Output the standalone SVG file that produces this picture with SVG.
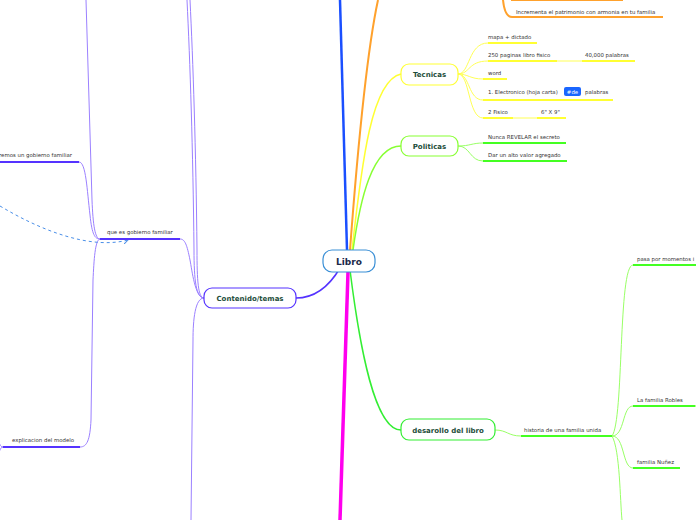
<svg xmlns="http://www.w3.org/2000/svg" width="696" height="520" viewBox="0 0 696 520">
<defs>
<style>
.t{font-family:"DejaVu Sans","Liberation Sans",sans-serif;font-size:5.4px;fill:#333}
.nt{font-family:"DejaVu Sans","Liberation Sans",sans-serif;font-weight:bold;font-size:7px;fill:#1d4d3a;text-anchor:middle}
.c{fill:none}
.pu{stroke:#9b80ff;stroke-width:1}
.puu{stroke:#5533ff;stroke-width:2}
.ye{stroke:#ffff55;stroke-width:1}
.yeu{stroke:#ffff33;stroke-width:2}
.gr{stroke:#99ff66;stroke-width:1}
.gru{stroke:#44ff22;stroke-width:2}
.or{stroke:#ffa12c;stroke-width:2}
</style>
<marker id="arr" markerWidth="6" markerHeight="6" refX="5" refY="3" orient="auto" markerUnits="userSpaceOnUse">
<path d="M0,0 L5,3 L0,6" fill="none" stroke="#4a8fe8" stroke-width="1"/>
</marker>
</defs>
<rect width="696" height="520" fill="#fff"/>
<g id="connectors">
<path class="c" d="M347,250 L340,0" stroke="#1a4fff" stroke-width="2.5"/>
<path class="c" d="M350,250 C356,170 365,60 378,0" stroke="#ffa12c" stroke-width="2"/>
<path class="c" d="M352,250 C362,160 372,80 401,74" stroke="#ffff33" stroke-width="1.5"/>
<path class="c" d="M353,250 C360,200 372,146 401,146" stroke="#88ff33" stroke-width="1.5"/>
<path class="c" d="M350,270 C360,350 375,430 401,430" stroke="#33ee33" stroke-width="1.5"/>
<path class="c" d="M348,272 L340,520" stroke="#ff00ee" stroke-width="3.5"/>
<path class="c" d="M340,268 C330,285 315,298 296,298" stroke="#5533ff" stroke-width="1.5"/>
<path class="c or" d="M503,0 C504,10 506,17 512,17"/>
<path class="c ye" d="M458,74 C470,74 468,43 488,43"/>
<path class="c ye" d="M458,74 C470,74 468,61 488,61"/>
<path class="c ye" d="M458,74 C468,74 470,79 483,79"/>
<path class="c ye" d="M458,74 C470,74 468,100 483,100"/>
<path class="c ye" d="M458,74 C470,74 468,118 483,118"/>
<path class="c ye" d="M557,61 L582,61"/>
<path class="c ye" d="M513,118 L537,118"/>
<path class="c gr" d="M458,146 C470,146 472,143 483,143"/>
<path class="c gr" d="M458,146 C470,146 470,161 483,161"/>
<path class="c gr" d="M495,430 C507,430 508,436 521,436"/>
<path class="c gr" d="M612,436 C624,420 618,265 633,265"/>
<path class="c gr" d="M612,436 C625,436 622,406 633,406"/>
<path class="c gr" d="M612,436 C625,436 622,468 633,468"/>
<path class="c gr" d="M612,436 C620,450 620,500 622,520"/>
<path class="c gr" d="M695,406 C698,406 699,403 701,400 M695,406 C698,406 699,409 701,412"/>
<path class="c pu" d="M204,298 C196,298 194,280 194,250 C193,150 190,60 187,0"/>
<path class="c pu" d="M204,298 C198,298 197,280 197,250 C196,150 193,60 190,0"/>
<path class="c pu" d="M204,298 C195,298 192,270 190,260 C187,245 185,239 180,239"/>
<path class="c pu" d="M204,298 C195,298 193,320 193,340 L191,520"/>
<path class="c pu" d="M100,239 C95,239 93,225 92,200 L86,0"/>
<path class="c pu" d="M79,162 C86,162 87,190 90,215 C92,235 95,239 100,239"/>
<path class="c pu" d="M100,239 C95,240 94,260 93,280 L91,420 C90,440 87,447 80,447"/>
<path class="c pu" d="M3,447 C0,447 0,443 -3,440 M3,447 C0,447 0,452 -3,455"/>
<path class="c" d="M0,206 C40,230 90,250 128,240" stroke="#4a8fe8" stroke-width="1" stroke-dasharray="3,3" marker-end="url(#arr)"/>
</g>
<g id="libro">
<rect x="323" y="250" width="52" height="22" rx="9" fill="#fff" stroke="#3a8fd6" stroke-width="1.2"/>
<text x="349" y="265" class="nt" style="font-size:9px;fill:#1b2a4a">Libro</text>
</g>
<g id="orange-leaves">
<line x1="511" y1="0" x2="623" y2="0" class="or"/>
<text x="516" y="14" class="t">Incrementa el patrimonio con armonia en tu familia</text>
<line x1="512" y1="17" x2="663" y2="17" class="or"/>
</g>
<g id="tecnicas">
<rect x="401" y="64" width="57" height="21" rx="8" fill="#fff" stroke="#ffff33" stroke-width="1.2"/>
<text x="429.5" y="77" class="nt">Tecnicas</text>
</g>
<g id="tecnicas-leaves">
<text x="488" y="39" class="t">mapa + dictado</text>
<line x1="488" y1="43" x2="537" y2="43" class="yeu"/>
<text x="488" y="57" class="t">250 paginas libro fisico</text>
<line x1="488" y1="61" x2="557" y2="61" class="yeu"/>
<text x="585" y="57" class="t">40,000 palabras</text>
<line x1="582" y1="61" x2="635" y2="61" class="yeu"/>
<text x="488" y="75" class="t">word</text>
<line x1="483" y1="79" x2="507" y2="79" class="yeu"/>
<text x="488" y="94" class="t">1. Electronico (hoja carta)</text>
<rect x="564" y="87" width="17" height="9" rx="2" fill="#1a66ff"/>
<text x="572.5" y="93.8" class="t" style="fill:#fff;text-anchor:middle">#de</text>
<text x="585" y="94" class="t">palabras</text>
<line x1="483" y1="100" x2="613" y2="100" class="yeu"/>
<text x="488" y="114" class="t">2 Fisico</text>
<line x1="483" y1="118" x2="513" y2="118" class="yeu"/>
<text x="541" y="114" class="t">6" X 9"</text>
<line x1="537" y1="118" x2="566" y2="118" class="yeu"/>
</g>
<g id="politicas">
<rect x="401" y="136" width="57" height="20" rx="8" fill="#fff" stroke="#88ff33" stroke-width="1.2"/>
<text x="429.5" y="148.5" class="nt">Politicas</text>
</g>
<g id="politicas-leaves">
<text x="488" y="139" class="t">Nunca REVELAR el secreto</text>
<line x1="483" y1="143" x2="566" y2="143" class="gru"/>
<text x="488" y="157" class="t">Dar un alto valor agregado</text>
<line x1="483" y1="161" x2="567" y2="161" class="gru"/>
</g>
<g id="desarollo">
<rect x="401" y="419" width="94" height="21" rx="8" fill="#fff" stroke="#33ee33" stroke-width="1.2"/>
<text x="448" y="432.5" class="nt">desarollo del libro</text>
</g>
<g id="desarollo-leaves">
<text x="524" y="432" class="t">historia de una familia unida</text>
<line x1="521" y1="436" x2="612" y2="436" class="gru"/>
<text x="637" y="261" class="t">pasa por momentos i</text>
<line x1="633" y1="265" x2="696" y2="265" class="gru"/>
<text x="637" y="402" class="t">La familia Robles</text>
<line x1="633" y1="406" x2="695" y2="406" class="gru"/>
<text x="637" y="464" class="t">familia Nuñez</text>
<line x1="633" y1="468" x2="680" y2="468" class="gru"/>
</g>
<g id="contenido">
<rect x="204" y="288" width="92" height="20" rx="8" fill="#fff" stroke="#5533ff" stroke-width="1.2"/>
<text x="250" y="301" class="nt">Contenido/temas</text>
</g>
<g id="contenido-leaves">
<text x="107" y="234" class="t">que es gobierno familiar</text>
<line x1="100" y1="239" x2="180" y2="239" class="puu"/>
<text x="-1" y="157" class="t">remos un gobierno familiar</text>
<line x1="0" y1="162" x2="79" y2="162" class="puu"/>
<text x="12" y="442" class="t">explicacion del modelo</text>
<line x1="3" y1="447" x2="80" y2="447" class="puu"/>
</g>
</svg>
